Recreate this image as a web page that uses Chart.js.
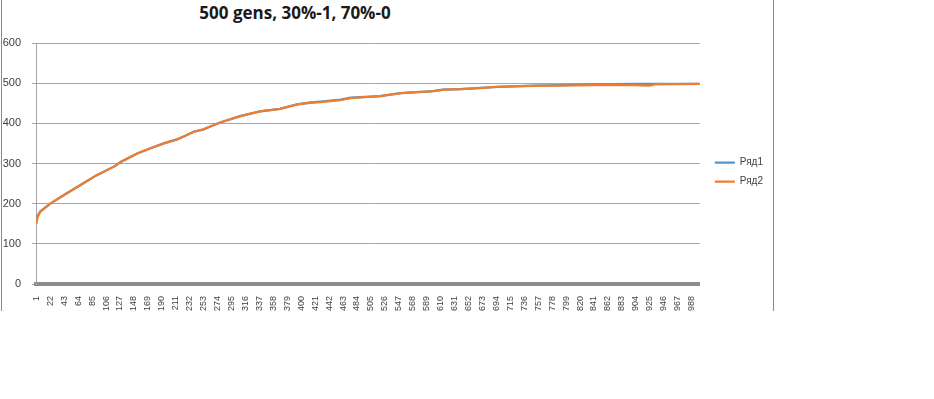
<!DOCTYPE html>
<html>
<head>
<meta charset="utf-8">
<script src="https://cdn.jsdelivr.net/npm/chart.js@4"></script>
<style>
  body { margin: 0; background: #fff; }
  #page { position: relative; width: 934px; height: 399px; }
  #frame { position: absolute; left: 1px; top: 0; width: 771px; height: 311px;
           border-left: 1px solid #8c8c8c; border-right: 1px solid #8c8c8c; }
  #box { position: absolute; left: 3px; top: 0; width: 770px; height: 311px; }
  #title { position: absolute; left: 180px; top: 4px; width: 230px; text-align: center;
           font: bold 17px/17px "Open Sans", sans-serif; color: #1a1a1a; white-space: nowrap; }
</style>
</head>
<body>
<div id="page">
  <div id="frame"></div>
  <div id="title">500 gens, 30%-1, 70%-0</div>
  <div id="box"><canvas id="graph"></canvas></div>
</div>
<script>
// category labels shown by Excel (every 21st generation)
const xTicks = [1, 22, 43, 64, 85, 106, 127, 148, 169, 190, 211, 232, 253, 274, 295, 316,
    337, 358, 379, 400, 421, 442, 463, 484, 505, 526, 547, 568, 589, 610, 631, 652,
    673, 694, 715, 736, 757, 778, 799, 820, 841, 862, 883, 904, 925, 946, 967, 988];

const gens = [1, 3, 7, 22, 42, 67, 92, 120, 128, 153, 173, 193, 213, 223, 238, 253, 263, 278,
    308, 338, 368, 394, 414, 429, 459, 474, 519, 550, 599, 614, 640, 660, 695, 750, 790,
    840, 900, 925, 932, 1000];

const ryad1 = [165, 170, 181, 200, 221, 246, 271, 294, 304, 325, 338, 350, 360, 367, 379, 385,
    392, 402, 418, 430, 436, 447, 452, 454, 459, 464, 468, 475, 480, 484, 485, 487, 491,
    494, 495, 497, 498, 498, 498, 498];

const ryad2 = [150, 167, 180, 200, 221, 246, 271, 294, 304, 325, 338, 350, 360, 367, 379, 385,
    392, 402, 418, 430, 436, 447, 451, 453, 458, 463, 468, 475, 480, 484, 485, 487, 491,
    493, 494, 495, 495, 494, 497, 498];

const yTicks = [0, 100, 200, 300, 400, 500, 600];

new Chart(
    document.querySelector("#graph"),
{
    type: 'line',
    data: {
        datasets: [{
            label: 'Ряд1',
            borderColor: '#4f98c9',
            backgroundColor: '#4f98c9',
            borderWidth: 2.25,
            radius: 0,
            order: 1,
            data: gens.map((g, i) => ({x: g, y: ryad1[i]})),
        },
        {
            label: 'Ряд2',
            borderColor: '#ed7d31',
            backgroundColor: '#ed7d31',
            borderWidth: 2.25,
            radius: 0,
            order: 0,
            data: gens.map((g, i) => ({x: g, y: ryad2[i]})),
        }]
    },
    options: {
        responsive: true,
        maintainAspectRatio: false,
        animation: false,
        layout: {
            padding: {top: 33, left: 0, right: 0, bottom: 0}
        },
        plugins: {
            tooltip: {enabled: false},
            legend: {
                position: 'right',
                labels: {
                    usePointStyle: true,
                    pointStyle: 'line',
                    pointStyleWidth: 20,
                    padding: 9,
                    color: '#404040',
                    font: {family: 'Liberation Sans', size: 10},
                    sort: (a, b) => a.datasetIndex - b.datasetIndex
                }
            }
        },
        scales: {
            x: {
                type: 'linear',
                min: 0.5,
                max: 1000.5,
                afterBuildTicks: axis => { axis.ticks = xTicks.map(v => ({value: v})); },
                afterFit: axis => { axis.height = 27; },
                grid: {display: false},
                border: {display: true, color: '#8c8c8c', width: 4},
                ticks: {
                    autoSkip: false,
                    minRotation: 90,
                    maxRotation: 90,
                    padding: 4,
                    color: '#404040',
                    font: {family: 'Liberation Sans', size: 9}
                }
            },
            y: {
                type: 'linear',
                min: 0,
                max: 600,
                afterBuildTicks: axis => { axis.ticks = yTicks.map(v => ({value: v})); },
                afterFit: axis => { axis.width = 33; },
                grid: {color: '#a6a6a6', tickLength: 4},
                border: {color: '#a6a6a6'},
                ticks: {
                    padding: 11,
                    color: '#404040',
                    font: {family: 'Liberation Sans', size: 11}
                }
            },
            spacer: {
                position: 'right',
                afterFit: axis => { axis.width = 6; },
                grid: {display: false},
                border: {display: false},
                ticks: {display: false}
            },
            spacerTop: {
                position: 'top',
                afterFit: axis => { axis.height = 10; },
                grid: {display: false},
                border: {display: false},
                ticks: {display: false}
            }
        }
    }
});
</script>
</body>
</html>
